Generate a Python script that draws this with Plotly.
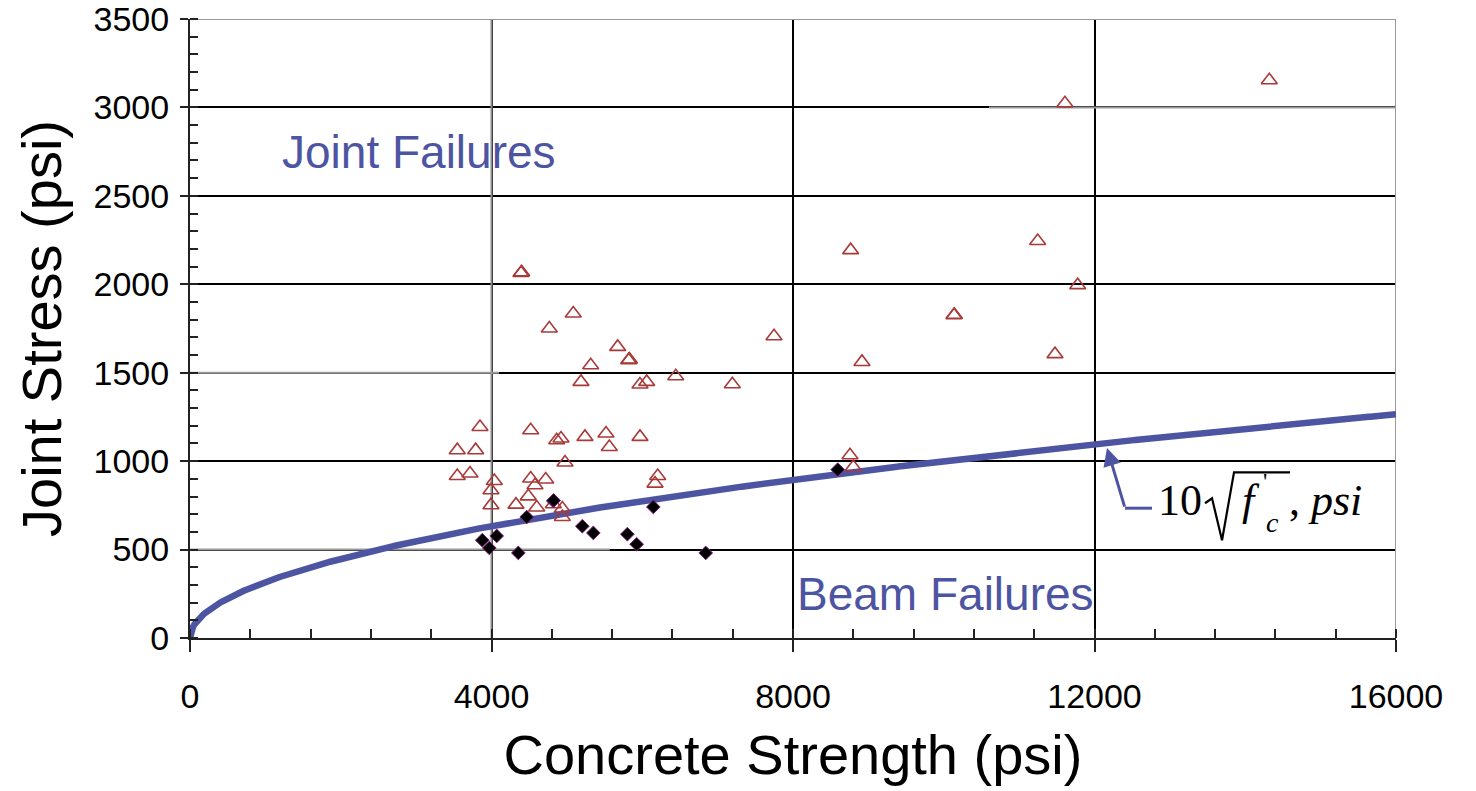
import numpy as np
import plotly.graph_objects as go

# ---- data ----
joint_x = [4391, 4400, 5085, 4767, 5674, 5820, 5830, 5316, 5187, 5970, 6059, 6444, 7195,
           3847, 4520, 3546, 3790, 4865, 4922, 5240, 5519, 5563, 5970, 4975,
           3546, 3715, 4037, 3993, 4520, 4577, 4719, 6205, 6169,
           3993, 4325, 4488, 4600, 4820, 4940, 4940,
           7748, 8915, 8765, 11246, 11777, 10136, 10140, 11476, 8756, 8800, 14319, 11608]
joint_y = [2064, 2068, 1835, 1750, 1646, 1571, 1575, 1542, 1448, 1433, 1448, 1480, 1435,
           1193, 1175, 1062, 1062, 1118, 1128, 1137, 1156, 1080, 1137, 992,
           916, 930, 888, 835, 902, 864, 896, 916, 873,
           751, 754, 801, 738, 756, 732, 684,
           1706, 1561, 2193, 2245, 1995, 1825, 1828, 1605, 1033, 967, 3154, 3023]

beam_x = [4820, 4825, 4467, 3878, 4069, 3971, 4356, 5205, 5351, 5802, 5926, 6147, 6842, 8593]
beam_y = [775, 778, 684, 553, 577, 509, 481, 632, 594, 587, 530, 741, 481, 952]

curve_fc = np.linspace(0, 16000, 801)
curve_coef = 10

x_ticks = [0, 4000, 8000, 12000, 16000]
y_ticks = [0, 500, 1000, 1500, 2000, 2500, 3000, 3500]

BLUE = "#4d55a2"
RED = "#a83a3a"
FONT = "Liberation Sans, Arial, sans-serif"
SERIF = "Liberation Serif, Times New Roman, serif"

fig = go.Figure()

fig.add_trace(go.Scatter(
    x=curve_fc, y=curve_coef * np.sqrt(curve_fc), mode="lines",
    line=dict(color=BLUE, width=6.5), hoverinfo="skip", showlegend=False))

fig.add_trace(go.Scatter(
    x=joint_x, y=joint_y, mode="markers", showlegend=False,
    marker=dict(symbol="triangle-up-open", size=14, color=RED,
                line=dict(color=RED, width=1.6))))

fig.add_trace(go.Scatter(
    x=beam_x, y=beam_y, mode="markers", showlegend=False,
    marker=dict(symbol="diamond", size=10.5, color="black",
                line=dict(color="#7a1f7a", width=1))))

GRAY = dict(color="#9a9a9a", width=2)
shapes = []
# gray parts of frame / grid (as in the scanned original)
shapes.append(dict(type="line", xref="x", yref="y", x0=0, x1=16000, y0=3500, y1=3500,
                   line=GRAY, layer="between"))
shapes.append(dict(type="line", xref="x", yref="y", x0=16000, x1=16000, y0=0, y1=3500,
                   line=GRAY, layer="between"))
shapes.append(dict(type="line", xref="x", yref="y", x0=4000, x1=4000, y0=0, y1=3500,
                   line=dict(color="#8a8a8a", width=2), layer="between"))
shapes.append(dict(type="line", xref="x", yref="y", x0=0, x1=5570, y0=500, y1=500,
                   line=GRAY, layer="between"))
shapes.append(dict(type="line", xref="x", yref="y", x0=10600, x1=16000, y0=3000, y1=3000,
                   line=GRAY, layer="between"))
shapes.append(dict(type="line", xref="x", yref="y", x0=0, x1=4100, y0=1500, y1=1500,
                   line=GRAY, layer="between"))
# bent leader line of the equation label
shapes.append(dict(type="line", xref="x", yref="y", x0=12405, x1=12763, y0=734, y1=734,
                   line=dict(color=BLUE, width=3)))
# radical sign
shapes.append(dict(type="path", xref="x", yref="y",
                   path="M 13466,762 L 13559,790 L 13692,553 L 13851,937 L 14594,937",
                   line=dict(color="black", width=2.2)))

annotations = [
    dict(x=12166, y=1075, ax=12405, ay=734, xref="x", yref="y", axref="x", ayref="y",
         text="", showarrow=True, arrowhead=2, arrowsize=1.2, arrowwidth=3,
         arrowcolor=BLUE),
    dict(x=13450, y=775, xref="x", yref="y", xanchor="right", yanchor="middle",
         showarrow=False, text="10", font=dict(family=SERIF, size=44, color="black")),
    dict(x=14080, y=775, xref="x", yref="y", xanchor="center", yanchor="middle",
         showarrow=False, text="<i>f</i>", font=dict(family=SERIF, size=44, color="black")),
    dict(x=14262, y=885, xref="x", yref="y", xanchor="center", yanchor="middle",
         showarrow=False, text="'", font=dict(family=SERIF, size=24, color="black")),
    dict(x=14368, y=655, xref="x", yref="y", xanchor="center", yanchor="middle",
         showarrow=False, text="<i>c</i>", font=dict(family=SERIF, size=28, color="black")),
    dict(x=14560, y=775, xref="x", yref="y", xanchor="left", yanchor="middle",
         showarrow=False, text=", <i>psi</i>", font=dict(family=SERIF, size=44, color="black")),
    dict(x=1200, y=2750, xref="x", yref="y", xanchor="left", yanchor="middle",
         showarrow=False, text="Joint Failures",
         font=dict(family=FONT, size=46, color=BLUE)),
    dict(x=8020, y=250, xref="x", yref="y", xanchor="left", yanchor="middle",
         showarrow=False, text="Beam Failures",
         font=dict(family=FONT, size=46, color=BLUE)),
]

fig.update_layout(
    width=1476, height=791,
    margin=dict(l=190, r=80, t=19, b=153, autoexpand=False),
    paper_bgcolor="white", plot_bgcolor="white",
    shapes=shapes, annotations=annotations,
    font=dict(family=FONT, color="black"),
)

fig.update_xaxes(
    range=[0, 16000.01], tickvals=x_ticks, ticktext=[str(v) for v in x_ticks],
    automargin=False, ticklabeloverflow="allow",
    showgrid=True, gridcolor="black", gridwidth=2, zeroline=False,
    showline=True, linecolor="#222222", linewidth=2,
    ticks="outside", ticklen=12, tickwidth=2, tickcolor="#222222",
    tickfont=dict(size=34, family=FONT), ticklabelstandoff=15,
    minor=dict(dtick=800, tick0=0, ticks="inside", ticklen=9, tickwidth=2,
               tickcolor="#222222", showgrid=False),
    title=dict(text="Concrete Strength (psi)", font=dict(size=56, family=FONT), standoff=21),
)
fig.update_yaxes(
    range=[0, 3500.01], tickvals=y_ticks, ticktext=[str(v) for v in y_ticks],
    automargin=False, ticklabeloverflow="allow",
    showgrid=True, gridcolor="black", gridwidth=2, zeroline=False,
    showline=True, linecolor="#222222", linewidth=2,
    ticks="outside", ticklen=8, tickwidth=2, tickcolor="#222222",
    tickfont=dict(size=34, family=FONT), ticklabelstandoff=4,
    minor=dict(dtick=100, tick0=0, ticks="inside", ticklen=8, tickwidth=2,
               tickcolor="#222222", showgrid=False),
    title=dict(text="Joint Stress (psi)", font=dict(size=56, family=FONT), standoff=14),
)

fig.write_html("out.html", config={"displayModeBar": False},
               post_script="document.body.style.margin='0';document.body.style.padding='0';")
